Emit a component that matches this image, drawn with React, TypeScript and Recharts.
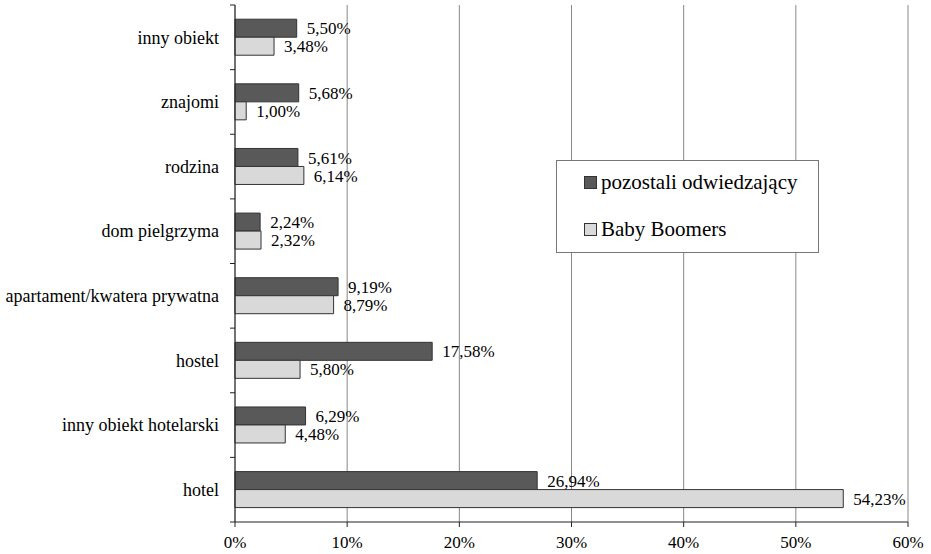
import React from "react";
import {
  BarChart,
  Bar,
  XAxis,
  YAxis,
  CartesianGrid,
  Legend,
  LabelList,
} from "recharts";

// categories from top to bottom
const categories = [
  "inny obiekt",
  "znajomi",
  "rodzina",
  "dom pielgrzyma",
  "apartament/kwatera prywatna",
  "hostel",
  "inny obiekt hotelarski",
  "hotel",
];

// share of respondents, %
const pozostali = [5.5, 5.68, 5.61, 2.24, 9.19, 17.58, 6.29, 26.94];
const babyBoomers = [3.48, 1.0, 6.14, 2.32, 8.79, 5.8, 4.48, 54.23];

const xTicks = [0, 10, 20, 30, 40, 50, 60];

const seriesNames = ["pozostali odwiedzający", "Baby Boomers"];

const data = categories.map((name, i) => ({
  name,
  pozostali: pozostali[i],
  boomers: babyBoomers[i],
}));

const FONT = "'Liberation Serif', 'Times New Roman', serif";
const DARK = "#595959";
const LIGHT = "#d9d9d9";

const pct = (v: any) => Number(v).toFixed(2).replace(".", ",") + "%";

// category label plus a small tick mark at the band boundary
const CategoryTick = (props: any) => {
  const { x, y, payload, index, visibleTicksCount } = props;
  const half = payload && payload.offset ? payload.offset : 32.25;
  const lx = x + 11;
  return (
    <g>
      <text
        x={x}
        y={y}
        dy="0.35em"
        textAnchor="end"
        fill="#000"
        fontSize={18}
        fontFamily={FONT}
      >
        {payload.value}
      </text>
      <line x1={lx} x2={lx + 5} y1={y - half} y2={y - half} stroke="#222" />
      {index === visibleTicksCount - 1 && (
        <line x1={lx} x2={lx + 5} y1={y + half} y2={y + half} stroke="#222" />
      )}
    </g>
  );
};

const LegendBox = () => (
  <div
    style={{
      width: 261,
      height: 91,
      border: "1px solid #777",
      background: "#fff",
      fontFamily: FONT,
      fontSize: 21,
      color: "#000",
      boxSizing: "content-box",
    }}
  >
    {seriesNames.map((n, i) => (
      <div
        key={n}
        style={{
          position: "absolute",
          left: 28,
          top: i === 0 ? 10 : 57,
          display: "flex",
          alignItems: "center",
          whiteSpace: "nowrap",
        }}
      >
        <span
          style={{
            display: "inline-block",
            width: 11,
            height: 11,
            background: i === 0 ? DARK : LIGHT,
            border: "1px solid #333",
            marginRight: 4,
          }}
        />
        {n}
      </div>
    ))}
  </div>
);

const App: React.FC = () => {
  return (
    <div
      style={{
        position: "absolute",
        left: 0,
        top: 0,
        width: 931,
        height: 554,
        background: "#fff",
        fontFamily: FONT,
      }}
    >
      <BarChart
        width={931}
        height={554}
        data={data}
        layout="vertical"
        margin={{ top: 5, right: 23, left: 0, bottom: 2 }}
        barCategoryGap="22%"
        barGap={0}
      >
        <CartesianGrid horizontal={false} stroke="#888" />
        <XAxis
          type="number"
          domain={[0, 60]}
          ticks={xTicks}
          tickFormatter={(v) => v + "%"}
          height={30}
          tickSize={5}
          tickMargin={9}
          stroke="#222"
          tick={{ fontSize: 17, fill: "#000", fontFamily: FONT }}
          interval={0}
        />
        <XAxis
          xAxisId="top"
          orientation="top"
          type="number"
          domain={[0, 60]}
          height={0}
          tick={false}
          tickLine={false}
          stroke="#888"
        />
        <YAxis
          type="category"
          dataKey="name"
          width={235}
          tickSize={5}
          tickMargin={11}
          tickLine={false}
          stroke="#222"
          interval={0}
          tick={<CategoryTick />}
        />
        <Legend
          layout="vertical"
          align="center"
          verticalAlign="middle"
          content={<LegendBox />}
          wrapperStyle={{ position: "absolute", left: 556, top: 160, width: 263, height: 93 }}
        />
        <Bar
          dataKey="pozostali"
          name={seriesNames[0]}
          fill={DARK}
          stroke="#333"
          isAnimationActive={false}
        >
          <LabelList
            dataKey="pozostali"
            position="right"
            offset={10}
            formatter={pct}
            fill="#000"
            fontSize={17}
            fontFamily={FONT}
          />
        </Bar>
        <Bar
          dataKey="boomers"
          name={seriesNames[1]}
          fill={LIGHT}
          stroke="#333"
          isAnimationActive={false}
        >
          <LabelList
            dataKey="boomers"
            position="right"
            offset={10}
            formatter={pct}
            fill="#000"
            fontSize={17}
            fontFamily={FONT}
          />
        </Bar>
      </BarChart>
    </div>
  );
};

export default App;
